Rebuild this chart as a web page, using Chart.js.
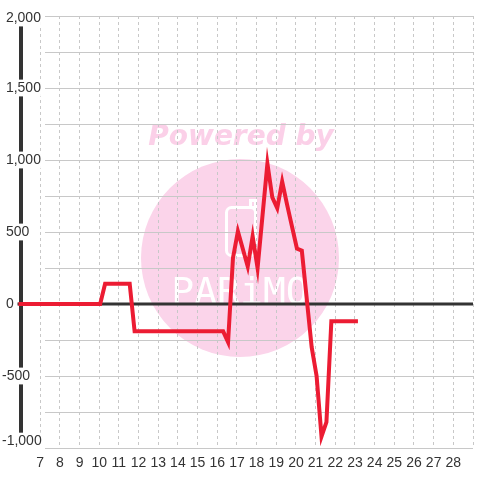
<!DOCTYPE html>
<html>
<head>
<meta charset="utf-8">
<script src="https://cdn.jsdelivr.net/npm/chart.js@4/dist/chart.umd.min.js"></script>
<style>
  html, body { margin: 0; padding: 0; background: #fff; }
  canvas { display: block; }
</style>
</head>
<body>
<canvas id="chart" width="480" height="480"></canvas>
<script>
// hour of day (x) and reading (y)
hours = [6, 10.05, 10.3, 11.55, 11.8, 16.3, 16.55, 16.8, 17.05, 17.55, 17.8, 18.05,
         18.55, 18.8, 19.05, 19.3, 19.55, 20.05, 20.3, 20.8, 21.05, 21.3, 21.55, 21.8, 23.05];
readings = [0, 0, 140, 140, -190, -190, -265, 320, 505, 260, 470, 250,
            975, 740, 665, 850, 690, 385, 370, -300, -500, -920, -820, -120, -120];

xMin = 6;
xMax = 29;
yMin = -1000;
yMax = 2000;
yLabelStep = 500;
yGridStep = 250;

points = [];
for (let i = 0; i < hours.length; i++) {
  points.push({x: hours[i], y: readings[i]});
}

function fmt(v) {
  return v.toLocaleString('en-US');
}

// pink "Powered by" stamp and the horizontal grid, under everything else
const background = {
  id: 'background',
  beforeDraw(chart) {
    const ctx = chart.ctx;
    ctx.save();
    ctx.fillStyle = '#fbd4ea';
    ctx.beginPath();
    ctx.arc(240, 258, 99, 0, Math.PI * 2);
    ctx.fill();

    ctx.fillStyle = '#fbd0e8';
    ctx.font = 'italic bold 28px "DejaVu Sans"';
    ctx.textAlign = 'center';
    ctx.textBaseline = 'alphabetic';
    ctx.fillText('Powered by', 241, 145);

    ctx.strokeStyle = '#fff';
    ctx.lineWidth = 3;
    ctx.beginPath();
    ctx.roundRect(226.5, 207.5, 29, 48, 5);
    ctx.stroke();
    ctx.beginPath();
    ctx.rect(250.5, 200.5, 5, 7);
    ctx.stroke();

    ctx.fillStyle = '#fff';
    ctx.font = '38px "DejaVu Sans Mono"';
    ctx.fillText('PARiMO', 240, 304);

    // horizontal grid starts right of the tick labels
    const y = chart.scales.y;
    const area = chart.chartArea;
    ctx.strokeStyle = '#c8c8c8';
    ctx.lineWidth = 1;
    for (let v = y.min; v <= y.max; v += yGridStep) {
      const py = Math.round(y.getPixelForValue(v)) + 0.5;
      ctx.beginPath();
      ctx.moveTo(45, py);
      ctx.lineTo(area.right, py);
      ctx.stroke();
    }
    ctx.restore();
  },
  beforeDatasetsDraw(chart) {
    // dark zero line
    const ctx = chart.ctx;
    const area = chart.chartArea;
    const py = chart.scales.y.getPixelForValue(0);
    ctx.save();
    ctx.strokeStyle = '#333';
    ctx.lineWidth = 3;
    ctx.beginPath();
    ctx.moveTo(area.left - 3, py);
    ctx.lineTo(area.right, py);
    ctx.stroke();
    ctx.restore();
  }
};

Chart.defaults.font.family = '"Liberation Sans", Arial, sans-serif';
Chart.defaults.font.size = 14;
Chart.defaults.color = '#333';

const ctx = document.getElementById('chart').getContext('2d');
myChart = new Chart(ctx, {
  type: 'line',
  data: {
    datasets: [{
      data: points,
      borderColor: '#ec1c33',
      borderWidth: 4,
      borderCapStyle: 'square',
      borderJoinStyle: 'miter',
      pointRadius: 0,
      tension: 0,
      fill: false,
      clip: false,
    }]
  },
  options: {
    responsive: false,
    animation: false,
    devicePixelRatio: 1,
    layout: { padding: { left: 2, top: 16, right: 0, bottom: 0 } },
    plugins: {
      legend: { display: false },
      tooltip: { enabled: false },
    },
    scales: {
      x: {
        type: 'linear',
        min: xMin,
        max: xMax,
        grid: { color: '#c8c8c8', lineWidth: 1, drawTicks: false },
        border: { display: false, dash: [3, 3] },
        ticks: {
          stepSize: 1,
          autoSkip: false,
          maxRotation: 0,
          padding: 7,
          callback: (v) => (v > xMin && v < xMax) ? String(v) : '',
        },
        afterFit: (s) => { s.height = 32; },
      },
      y: {
        min: yMin,
        max: yMax,
        grid: { color: 'rgba(0,0,0,0)', drawTicks: false },
        border: { display: true, color: '#333', width: 4 },
        ticks: {
          mirror: true,
          crossAlign: 'near',
          padding: -18.5,
          showLabelBackdrop: true,
          backdropColor: '#fff',
          backdropPadding: 0,
          callback: (v) => {
            v = Math.round(v / yLabelStep) * yLabelStep;
            return (v >= 0 ? ' ' : '') + fmt(v);
          },
        },
        // labels every 500; the end labels sit a little inside the plot
        afterBuildTicks: (s) => {
          const t = [];
          for (let v = yMin; v <= yMax; v += yLabelStep) {
            let at = v;
            if (v === yMin) at = v + 48;
            if (v === yMax) at = v - 14;
            t.push({value: at});
          }
          s.ticks = t;
        },
        afterFit: (s) => { s.width = 18.5; },
      }
    }
  },
  plugins: [background]
});
</script>
</body>
</html>
